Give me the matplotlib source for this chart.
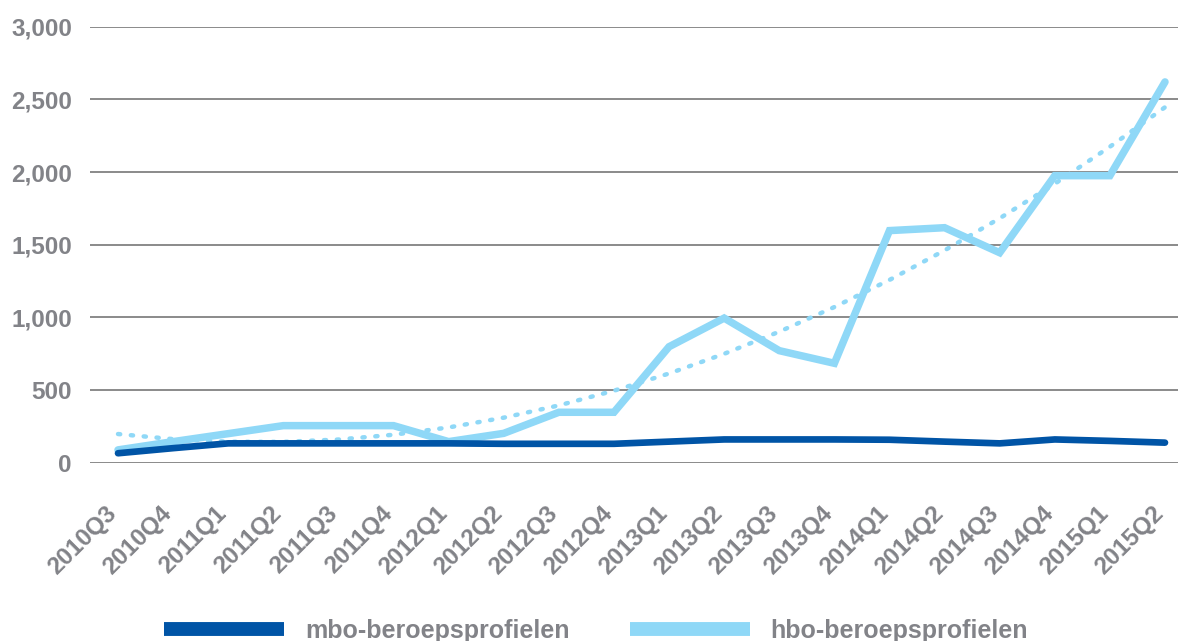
import numpy as np
import matplotlib
matplotlib.use("Agg")
import matplotlib.pyplot as plt
from matplotlib.lines import Line2D
from matplotlib.transforms import ScaledTranslation

quarters = ["2010Q3", "2010Q4", "2011Q1", "2011Q2", "2011Q3", "2011Q4",
            "2012Q1", "2012Q2", "2012Q3", "2012Q4", "2013Q1", "2013Q2",
            "2013Q3", "2013Q4", "2014Q1", "2014Q2", "2014Q3", "2014Q4",
            "2015Q1", "2015Q2"]
mbo = [65, 100, 133, 133, 133, 133, 133, 130, 130, 130, 145, 160,
       160, 160, 158, 145, 133, 160, 150, 138]
hbo = [88, 145, 200, 255, 255, 255, 145, 202, 347, 347, 798, 995,
       771, 684, 1597, 1617, 1445, 1975, 1975, 2620]
yticks = [0, 500, 1000, 1500, 2000, 2500, 3000]
legend_labels = ["mbo-beroepsprofielen", "hbo-beroepsprofielen"]

c_mbo = "#0054a6"
c_hbo = "#8fd8f7"
c_text = "#828388"
c_grid = "#8a8a8a"

plt.rcParams['font.family'] = ['Liberation Sans', 'DejaVu Sans']
plt.rcParams['font.weight'] = 'bold'

W, H = 1178, 641
fig = plt.figure(figsize=(W / 100, H / 100), dpi=100)
ax = fig.add_axes([90 / W, 1 - 462.7 / H, 1 - 90 / W, (462.7 - 26.7) / H])

x = np.arange(len(quarters))
# polynomial trendline (order 2) as in the spreadsheet chart
coef = np.polyfit(x + 1, hbo, 2)
trend = np.polyval(coef, x + 1)

ax.plot(x, trend, color=c_hbo, lw=3.2, linestyle=(0, (0.5, 2.4)),
        dash_capstyle='round', zorder=3)
ax.plot(x, hbo, color=c_hbo, lw=5.4, solid_capstyle='round',
        solid_joinstyle='miter', zorder=4, clip_on=False)
ax.plot(x, mbo, color=c_mbo, lw=4.8, solid_capstyle='round',
        solid_joinstyle='miter', zorder=5, clip_on=False)

px = 55.1
ax.set_xlim(-28 / px, 19 + 13 / px)
ax.set_ylim(0, 3000)
ax.set_yticks(yticks)
ax.set_yticklabels([f"{v:,}" for v in yticks])
ax.set_xticks(x)
ax.set_xticklabels(quarters, rotation=45, ha='right', va='center',
                   rotation_mode='anchor')
ax.tick_params(axis='both', length=0, labelsize=17.5, labelcolor=c_text)
ax.tick_params(axis='y', pad=13)
ax.tick_params(axis='x', pad=34)
shift = ScaledTranslation(-5 / 100, 0, fig.dpi_scale_trans)
for lab in ax.get_xticklabels():
    lab.set_transform(lab.get_transform() + shift)
for s in ax.spines.values():
    s.set_visible(False)
ax.grid(axis='y', color=c_grid, lw=1.4, zorder=1)
ax.grid(axis='x', visible=False)
ax.set_axisbelow(True)

handles = [Line2D([0], [0], color=c_mbo, lw=10, solid_capstyle='butt'),
           Line2D([0], [0], color=c_hbo, lw=10, solid_capstyle='butt')]
leg = fig.legend(handles, legend_labels, loc='center',
                 bbox_to_anchor=(596 / W, 1 - 631 / H), ncol=2, frameon=False,
                 fontsize=18, handlelength=4.8, handletextpad=0.85,
                 columnspacing=2.4)
for t in leg.get_texts():
    t.set_color(c_text)

fig.savefig("out.png", dpi=100)
